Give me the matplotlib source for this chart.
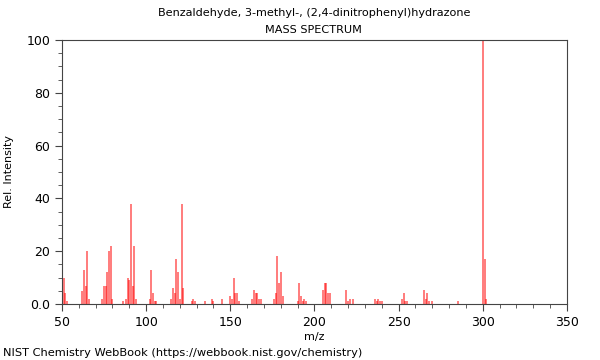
import matplotlib
matplotlib.use('Agg')
import matplotlib.pyplot as plt
from matplotlib.ticker import MultipleLocator

title = 'Benzaldehyde, 3-methyl-, (2,4-dinitrophenyl)hydrazone'

# m/z and relative intensity
mz = [51, 52, 53,
      62, 63, 64, 65, 66,
      74, 75, 76, 77, 78, 79, 80,
      86, 88, 89, 90, 91, 92, 93, 94,
      102, 103, 104, 105, 106,
      115, 116, 117, 118, 119, 120, 121, 122,
      127, 128, 129, 135, 139, 140, 145,
      150, 151, 152, 153, 154, 155,
      163, 164, 165, 166, 167, 168,
      176, 177, 178, 179, 180, 181,
      190, 191, 192, 193, 194, 195,
      205, 206, 207, 208, 209,
      219, 220, 221, 223,
      236, 237, 238, 239, 240,
      252, 253, 254, 255,
      265, 266, 267, 268, 270,
      285, 300, 301, 302]
intensity = [10, 4, 1,
             5, 13, 7, 20, 1.7,
             2, 7, 7, 12, 20, 22, 2,
             1, 2, 10, 9, 38, 7, 22, 2,
             2, 13, 4, 1, 1,
             2, 6, 4, 17, 12, 2, 38, 6,
             1, 2, 1, 1, 2, 1, 2,
             3, 2, 10, 4, 4, 1.3,
             2, 5.3, 4.3, 4.3, 2, 2,
             2, 4.3, 18, 8, 12, 3,
             1.3, 8, 3, 1.3, 2, 1.3,
             5.3, 8, 8, 4.3, 4,
             5.3, 1.3, 2, 2,
             2, 1.3, 2, 1.3, 1.3,
             2, 4.3, 1.3, 1.3,
             5.3, 2, 4.3, 1.3, 1.3,
             1.3, 100, 17, 2]

fig = plt.figure(figsize=(6, 3.6), dpi=100)
ax = fig.add_axes([0.1033, 0.1556, 0.8417, 0.7333])

ax.vlines(mz, 0, intensity, colors='red', alpha=0.6, linewidth=1.2)

ax.set_xlim(50, 350)
ax.set_ylim(0, 100)
ax.xaxis.set_major_locator(MultipleLocator(50))
ax.xaxis.set_minor_locator(MultipleLocator(10))
ax.yaxis.set_minor_locator(MultipleLocator(5))
ax.set_yticks([0, 20, 40, 60, 80, 100])
ax.set_yticklabels(['0.0', '20', '40', '60', '80', '100'])
ax.tick_params(axis='both', which='major', labelsize=9, length=5, color='#444444')
ax.tick_params(axis='both', which='minor', length=3, color='#444444')
for s in ax.spines.values():
    s.set_color('#444444')

ax.set_xlabel('m/z', fontsize=8, labelpad=2)
ax.set_ylabel('Rel. Intensity', fontsize=8, labelpad=9)
fig.text(0.523, 0.963, title, ha='center', va='center', fontsize=8.1)
fig.text(0.523, 0.917, 'MASS SPECTRUM', ha='center', va='center', fontsize=8.1)
fig.text(0.005, 0.02, 'NIST Chemistry WebBook (https://webbook.nist.gov/chemistry)',
         ha='left', va='center', fontsize=8.2)

fig.savefig('out.png', dpi=100)
